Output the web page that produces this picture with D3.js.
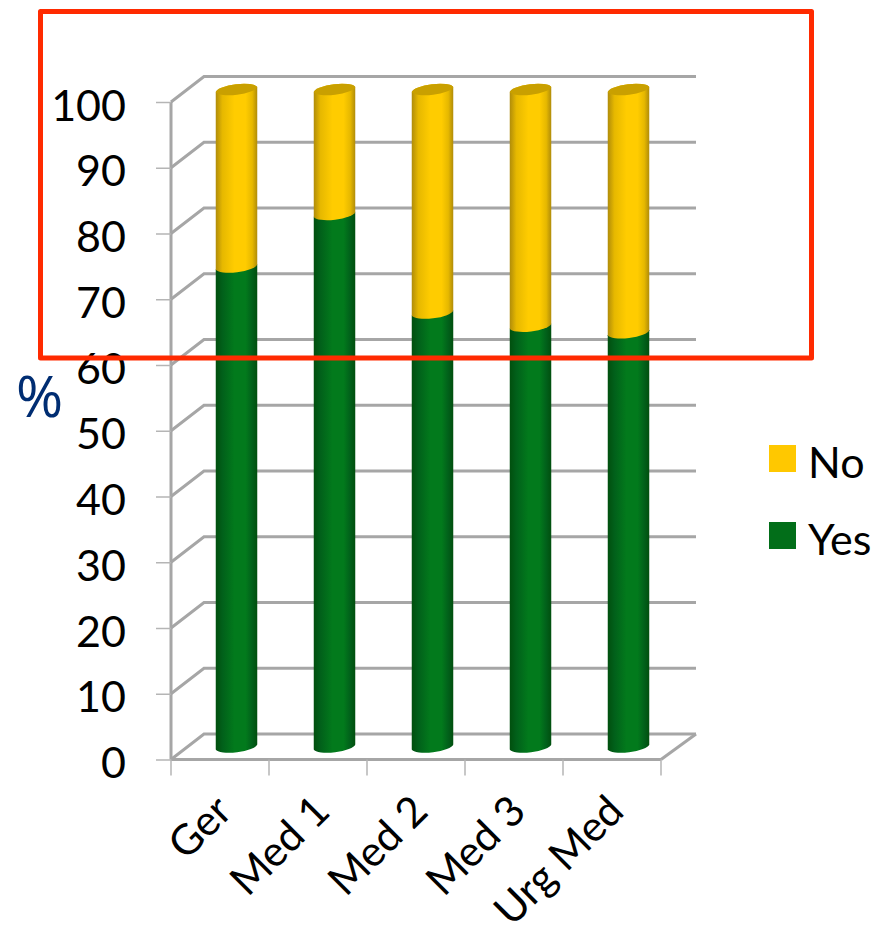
<!DOCTYPE html>
<html>
<head>
<meta charset="utf-8">
<script src="https://cdn.jsdelivr.net/npm/d3@7"></script>
<style>
html,body{margin:0;padding:0;background:#fff;}
svg{display:block;}
text{font-family:Lato,"Open Sans",sans-serif;}
</style>
</head>
<body>
<svg id="chart" width="875" height="937"></svg>
<script>
const categories = ["Ger", "Med 1", "Med 2", "Med 3", "Urg Med"];
const yesValues = [73, 81, 66, 64, 63];
const noValues = [27, 19, 34, 36, 37];
const yTicks = [0, 10, 20, 30, 40, 50, 60, 70, 80, 90, 100];
const seriesNames = ["Yes", "No"];
const legendNames = ["No", "Yes"];

const svg = d3.select("#chart");
const defs = svg.append("defs");

// Oblique box: front plane and the offset to the back wall
const depthX = 33, depthY = -25.5;
const x = d3.scaleBand().domain(categories).range([171, 661]);
const y = d3.scaleLinear().domain([0, 100]).range([759.5, 102]);
// Cylinders stand mid-floor, so they use their own vertical mapping
const barY = d3.scaleLinear().domain([0, 100]).range([747, 89.5]);
const barOffset = 16.5, barWidth = 41.5, tilt = 2.5, capRy = 6;

const palette = {
  Yes: {light: "#027a1c", mid: "#01601a", dark: "#014f0e", solid: "#026e19"},
  No:  {light: "#ffcc00", mid: "#e6b800", dark: "#b08c0a", solid: "#ffc800", cap: "#c9a000"}
};
const gridColor = "#a6a6a6";

// Horizontal shading that gives each cylinder its roundness
seriesNames.forEach(name => {
  const g = defs.append("linearGradient").attr("id", "shade" + name);
  [[0, palette[name].dark], [0.16, palette[name].mid], [0.45, palette[name].light],
   [0.72, palette[name].light], [0.88, palette[name].mid], [1, palette[name].dark]].forEach(([o, c]) =>
    g.append("stop").attr("offset", o).attr("stop-color", c));
});

// Back wall and side wall gridlines
const grid = svg.append("g").attr("fill", "none").attr("stroke", gridColor).attr("stroke-width", 3);
yTicks.forEach(t => {
  grid.append("polyline")
    .attr("points", [[x.range()[0], y(t)], [x.range()[0] + depthX, y(t) + depthY], [x.range()[1] + depthX + 2, y(t) + depthY]].join(" "));
});
grid.append("line").attr("x1", 171).attr("x2", 171).attr("y1", y(100)).attr("y2", y(0));
grid.append("line").attr("x1", 171).attr("x2", 661).attr("y1", y(0)).attr("y2", y(0));
grid.append("line").attr("x1", 661).attr("x2", 661 + depthX + 2).attr("y1", y(0)).attr("y2", y(0) + depthY);

// Value axis
const yAxis = svg.append("g").attr("transform", "translate(171,0)")
  .call(d3.axisLeft(y).tickValues(yTicks).tickSize(15).tickPadding(30));
yAxis.select(".domain").remove();
yAxis.selectAll("line").attr("stroke", "#b5b5b5").attr("stroke-width", 1.5);
yAxis.selectAll("text").attr("font-size", 43).attr("fill", "#000")
  .attr("dy", "0.42em");

// Category axis: tick marks sit on the band edges
const xTickAt = categories.map(c => x(c)).concat(x.range()[1]);
svg.append("g").selectAll("line").data(xTickAt).join("line")
  .attr("x1", d => d).attr("x2", d => d)
  .attr("y1", y(0)).attr("y2", y(0) + 16)
  .attr("stroke", "#b5b5b5").attr("stroke-width", 1.5);
svg.append("g").selectAll("text").data(categories).join("text")
  .attr("transform", c => `translate(${x(c) + x.bandwidth() / 2 + 14},${y(0) + 54}) rotate(-45)`)
  .attr("text-anchor", "end")
  .attr("font-size", 42)
  .attr("fill", "#000")
  .text(c => c);

// Cylinders built from stacked series
const rows = categories.map((c, i) => ({cat: c, Yes: yesValues[i], No: noValues[i]}));
const stacked = d3.stack().keys(seriesNames)(rows);
const rot = -Math.atan2(tilt * 2, barWidth) * 180 / Math.PI;
const rx = barWidth / 2 + 0.3;

const barLeft = d => x(d.data.cat) + x.bandwidth() / 2 + barOffset - barWidth / 2;

function cylinderPath(d) {
  const l = barLeft(d), r = l + barWidth;
  const y0 = barY(d[0]), y1 = barY(d[1]);
  return `M${l},${y1 + tilt} L${l},${y0 + tilt}` +
         `A${rx},${capRy} ${rot} 0 0 ${r},${y0 - tilt}` +
         `L${r},${y1 - tilt}` +
         `A${rx},${capRy} ${rot} 0 0 ${l},${y1 + tilt}Z`;
}
function capPath(d) {
  const l = barLeft(d), r = l + barWidth, yy = barY(d[1]);
  return `M${l},${yy + tilt}A${rx},${capRy} ${rot} 0 0 ${r},${yy - tilt}` +
         `A${rx},${capRy} ${rot} 0 0 ${l},${yy + tilt}Z`;
}

const bars = svg.append("g");
stacked.forEach(layer => {
  const name = layer.key;
  bars.append("g").selectAll("path").data(layer).join("path")
    .attr("d", cylinderPath)
    .attr("fill", `url(#shade${name})`);
});
bars.append("g").selectAll("path").data(stacked[1]).join("path")
  .attr("d", capPath)
  .attr("fill", palette.No.cap);

// Legend
const legend = svg.append("g");
const legendY = d3.scalePoint().domain(legendNames).range([445, 522]);
legend.selectAll("rect").data(legendNames).join("rect")
  .attr("x", 769).attr("y", d => legendY(d))
  .attr("width", 27).attr("height", 27)
  .attr("fill", d => palette[d].solid);
legend.selectAll("text").data(legendNames).join("text")
  .attr("x", 808).attr("y", d => legendY(d) + 33)
  .attr("font-size", 43).attr("fill", "#000")
  .text(d => d);

// Unit label
svg.append("text").attr("x", 16).attr("y", 417)
  .attr("font-size", 57).attr("fill", "#002d72")
  .style("font-family", "'Open Sans',sans-serif").text("%");

// Highlight frame
svg.append("rect").attr("x", 40.5).attr("y", 11.5)
  .attr("width", 771).attr("height", 346.5)
  .attr("fill", "none").attr("stroke", "#ff2a00").attr("stroke-width", 5)
  .attr("stroke-linejoin", "round");
</script>
</body>
</html>
